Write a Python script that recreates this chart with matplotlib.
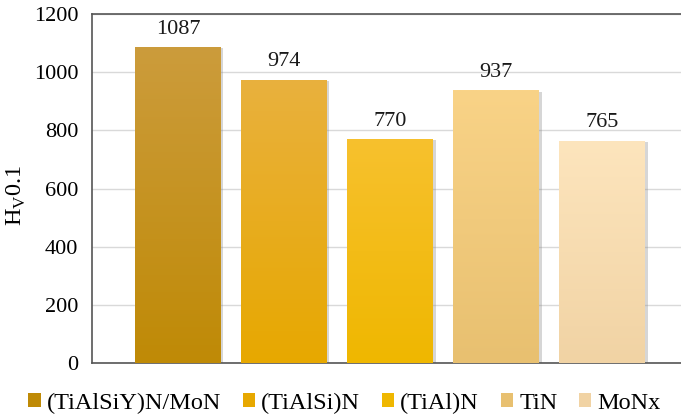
import numpy as np
import matplotlib
matplotlib.use("Agg")
import matplotlib.pyplot as plt
from matplotlib.colors import LinearSegmentedColormap
from matplotlib.patches import Rectangle

# Microhardness of coatings
coatings = ["(TiAlSiY)N/MoN", "(TiAlSi)N", "(TiAl)N", "TiN", "MoNx"]
hardness = [1087, 974, 770, 937, 765]
yticks = [0, 200, 400, 600, 800, 1000, 1200]

# top / bottom colours for each bar's vertical gradient
top_colors = ["#cc9c3c", "#e9b13e", "#f7c12e", "#f9d387", "#fde5bd"]
bottom_colors = ["#bf8a06", "#e7a800", "#efb700", "#e8c070", "#f1d3a4"]

plt.rcParams["font.family"] = ["Liberation Serif", "DejaVu Serif"]

fig = plt.figure(figsize=(6.81, 4.2), dpi=100)
ax = fig.add_axes([92 / 681, 1 - 363 / 420, (681 - 92) / 681, (363 - 14) / 420])

x = np.arange(len(coatings))
width = 0.81

for xi, v, ct, cb, name in zip(x, hardness, top_colors, bottom_colors, coatings):
    # thin drop shadow along the right edge
    ax.add_patch(Rectangle((xi - width / 2 + 0.022, 0), width, v - 4,
                           facecolor="#8a8a8a", alpha=0.35, edgecolor="none",
                           zorder=2))
    bar = ax.bar(xi, v, width=width, color=cb, edgecolor="none", zorder=3,
                 label=name)[0]
    cmap = LinearSegmentedColormap.from_list("g", [cb, ct])
    grad = np.linspace(0, 1, 256).reshape(-1, 1)
    im = ax.imshow(grad, cmap=cmap, origin="lower", aspect="auto",
                   extent=(xi - width / 2, xi + width / 2, 0, v), zorder=3.5)
    im.set_clip_path(bar)
    ax.annotate(f"{v}", (xi, v), xytext=(0, 6), textcoords="offset points",
                ha="center", va="bottom", fontsize=16, color="#1a1a1a")

ax.set_xlim(-0.81, 4.74)
ax.set_ylim(0, 1200)
ax.set_yticks(yticks)
ax.set_yticklabels([str(t) for t in yticks], fontsize=16)
ax.set_xticks([])
ax.tick_params(axis="y", length=0, pad=10)

ax.grid(axis="y", color="#d9d9d9", linewidth=1.0, zorder=0)
ax.set_axisbelow(True)
for side in ["left", "bottom", "top"]:
    ax.spines[side].set_color("#555555")
    ax.spines[side].set_linewidth(1.2)
ax.spines["right"].set_visible(False)

ax.set_ylabel(r"H$_{\mathregular{V}}$0.1", fontsize=17.5)
ax.yaxis.set_label_coords(-0.108, 0.48)

proxies = [Rectangle((0, 0), 1, 1, facecolor=c, edgecolor="none")
           for c in bottom_colors]
fig.legend(proxies, coatings, loc="center", bbox_to_anchor=(0.506, 1 - 403 / 420),
           ncol=5, frameon=False, fontsize=17.5, handlelength=0.5,
           handleheight=0.5, handletextpad=0.25, columnspacing=0.9,
           borderpad=0)

fig.savefig("out.png", dpi=100)
